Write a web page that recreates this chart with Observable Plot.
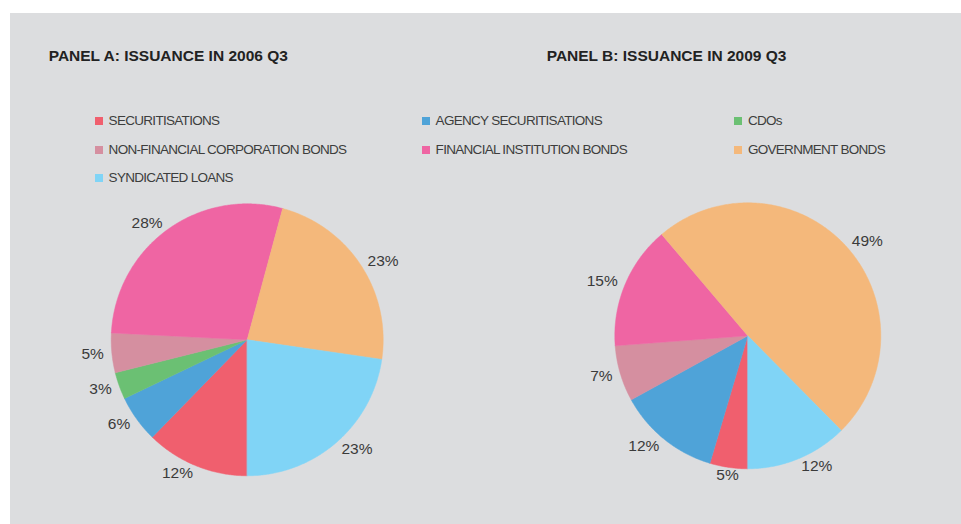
<!DOCTYPE html>
<html><head><meta charset="utf-8">
<script src="https://cdn.jsdelivr.net/npm/d3@7"></script>
<script src="https://cdn.jsdelivr.net/npm/@observablehq/plot@0.6"></script>
<style>
html,body{margin:0;padding:0;background:#fff;}
body{width:961px;height:524px;position:relative;overflow:hidden;font-family:"Liberation Sans",Arial,Helvetica,sans-serif;}
#bg{position:absolute;left:10px;top:13px;width:951px;height:511px;background:#dcdddf;}
#chart{position:absolute;left:0;top:0;}
.title{position:absolute;height:20px;line-height:20px;font-size:15.5px;font-weight:bold;color:#222;white-space:nowrap;}
.leg{position:absolute;height:16px;line-height:16px;display:flex;align-items:center;font-size:13.5px;letter-spacing:-0.7px;color:#3d3d3d;white-space:nowrap;}
.leg .sw{width:8px;height:8px;margin-right:5.6px;flex:none;}
</style></head><body>
<div id="bg"></div>
<div id="chart"></div>
<div id="overlay"></div>
<script>
// ---- data ----
const categories = ["SECURITISATIONS","AGENCY SECURITISATIONS","CDOs","NON-FINANCIAL CORPORATION BONDS","FINANCIAL INSTITUTION BONDS","GOVERNMENT BONDS","SYNDICATED LOANS"];
const colors = ["#f05f6e","#4fa3d8","#6bc073","#d58fa0","#ef65a3","#f4b87b","#80d4f6"];
const panelTitles = ["PANEL A: ISSUANCE IN 2006 Q3","PANEL B: ISSUANCE IN 2009 Q3"];
const panelA = [12.3, 5.6, 3.2, 4.7, 28.4, 23.1, 22.7];   // % of issuance, 2006 Q3
const panelB = [4.6, 12.4, 0, 6.8, 15.0, 48.8, 12.4];     // % of issuance, 2009 Q3

// ---- layout ----
const W = 961, H = 524;
const panels = [
  {values: panelA, cx: 246.7, cy: 339.3, r: 136, titleX: 48.7},
  {values: panelB, cx: 747.3, cy: 335.3, r: 133, titleX: 546.7}
];
const legendCols = [95, 422, 734.3];
const legendRow0 = 121, legendRowStep = 28.5;

const pie = d3.pie().sort(null).value(d => d.value).startAngle(Math.PI).endAngle(3 * Math.PI);
const marks = [];
const labels = [];
panels.forEach(p => {
  const rows = categories.map((c, i) => ({cat: c, value: p.values[i], color: colors[i]}));
  pie(rows).forEach(a => {
    if (a.data.value <= 0) return;
    const n = Math.max(2, Math.ceil((a.endAngle - a.startAngle) / (Math.PI / 360)));
    const pts = [{x: p.cx, y: p.cy}];
    for (let k = 0; k <= n; k++) {
      const t = a.startAngle + (a.endAngle - a.startAngle) * k / n;
      pts.push({x: p.cx + p.r * Math.sin(t), y: p.cy - p.r * Math.cos(t)});
    }
    marks.push(Plot.line(pts, {x: "x", y: "y", fill: a.data.color, stroke: a.data.color, strokeWidth: 0.5, curve: "linear-closed"}));
    const mid = (a.startAngle + a.endAngle) / 2;
    const lr = p.r + 8;
    const s = Math.sin(mid);
    labels.push({
      x: p.cx + lr * s, y: p.cy - lr * Math.cos(mid),
      text: Math.round(a.data.value) + "%",
      anchor: Math.abs(s) < 0.2 ? "middle" : (s > 0 ? "start" : "end")
    });
  });
});
["start", "middle", "end"].forEach(anc => {
  marks.push(Plot.text(labels.filter(d => d.anchor === anc), {
    x: "x", y: "y", text: "text", textAnchor: anc, fontSize: 15.5, fill: "#3a3a3a"
  }));
});

const chart = Plot.plot({
  width: W, height: H, margin: 0,
  x: {domain: [0, W], range: [0, W], axis: null},
  y: {domain: [0, H], range: [0, H], axis: null},
  style: {background: "transparent", fontFamily: '"Liberation Sans", Arial, Helvetica, sans-serif', overflow: "visible"},
  marks
});
document.getElementById("chart").appendChild(chart);

// ---- titles & legend ----
const ov = document.getElementById("overlay");
panels.forEach((p, i) => {
  const d = document.createElement("div");
  d.className = "title";
  d.style.left = p.titleX + "px";
  d.style.top = (55.7 - 9.8) + "px";
  d.textContent = panelTitles[i];
  ov.appendChild(d);
});
categories.forEach((c, i) => {
  const d = document.createElement("div");
  d.className = "leg";
  d.style.left = legendCols[i % 3] + "px";
  d.style.top = (legendRow0 + Math.floor(i / 3) * legendRowStep - 8) + "px";
  const sw = document.createElement("span");
  sw.className = "sw";
  sw.style.background = colors[i];
  d.appendChild(sw);
  d.appendChild(document.createTextNode(c));
  ov.appendChild(d);
});
</script>
</body></html>
